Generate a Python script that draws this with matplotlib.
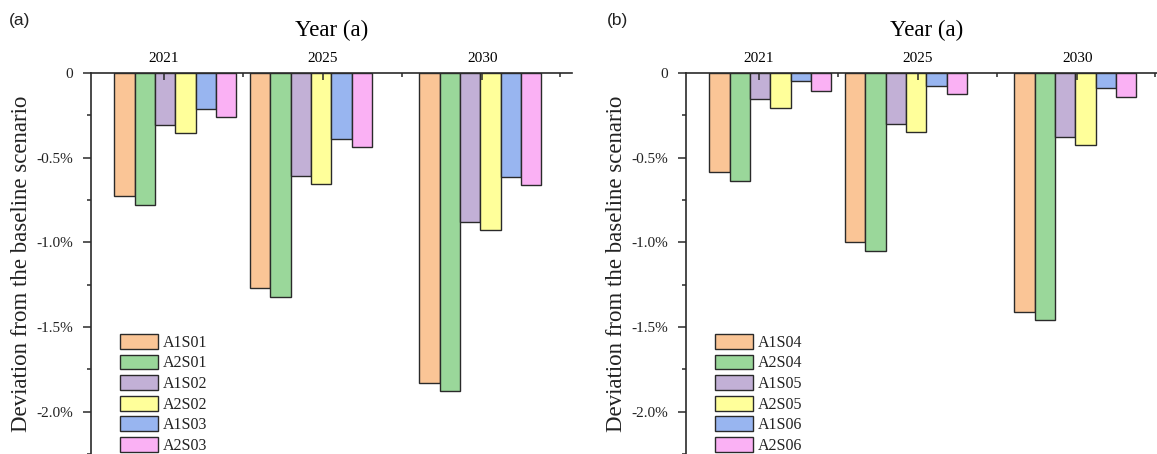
import matplotlib
matplotlib.use("Agg")
import matplotlib.pyplot as plt
import numpy as np

# ---------------- data ----------------
years = [2021, 2025, 2030]
year_labels = ["2021", "2025", "2030"]

labels_a = ["A1S01", "A2S01", "A1S02", "A2S02", "A1S03", "A2S03"]
A1S01 = [-0.728, -1.27, -1.83]
A2S01 = [-0.778, -1.32, -1.88]
A1S02 = [-0.306, -0.606, -0.877]
A2S02 = [-0.355, -0.655, -0.930]
A1S03 = [-0.210, -0.388, -0.612]
A2S03 = [-0.260, -0.437, -0.663]

labels_b = ["A1S04", "A2S04", "A1S05", "A2S05", "A1S06", "A2S06"]
A1S04 = [-0.585, -1.00, -1.41]
A2S04 = [-0.635, -1.05, -1.46]
A1S05 = [-0.155, -0.300, -0.375]
A2S05 = [-0.205, -0.350, -0.425]
A1S06 = [-0.050, -0.075, -0.090]
A2S06 = [-0.105, -0.125, -0.140]

yticks = [0, -0.5, -1.0, -1.5, -2.0]
ytick_labels = ["0", "-0.5%", "-1.0%", "-1.5%", "-2.0%"]

colors = ["#FAC596", "#9AD79A", "#C2B0D6", "#FFFF9A", "#98B5F0", "#FAB1F4"]
edge = "#2a2a2a"

# ---------------- layout ----------------
W, H = 1157, 454
fig = plt.figure(figsize=(W / 100, H / 100), dpi=100)
fig.patch.set_facecolor("white")

serif = ["Liberation Serif", "DejaVu Serif"]
sans = ["Liberation Sans", "DejaVu Sans"]

bar_w = 0.6
xlim = (2018.51, 2032.70)
ylim = (-2.241, 0)
top_major = [2020.66, 2025.35, 2030.05]
top_minor = [2022.99, 2027.68, 2032.35]


def make_panel(left_px, series, labels, tag, tag_x):
    ax_w = 481
    ax = fig.add_axes([left_px / W, 0, ax_w / W, (H - 73) / H])
    ax.set_axisbelow(False)
    x = np.array(years, dtype=float)
    for i, (vals, lab) in enumerate(zip(series, labels)):
        ax.bar(x + (i - 2.5) * bar_w, vals, width=bar_w, color=colors[i],
               edgecolor=edge, linewidth=1.0, label=lab, zorder=2)
    ax.set_xlim(*xlim)
    ax.set_ylim(*ylim)
    ax.spines["bottom"].set_visible(False)
    ax.spines["right"].set_visible(False)
    for s in ("top", "left"):
        ax.spines[s].set_color(edge)
        ax.spines[s].set_linewidth(1.2)
        ax.spines[s].set_zorder(5)

    # x axis on top
    ax.xaxis.tick_top()
    ax.set_xticks(top_major)
    ax.set_xticklabels(year_labels, fontfamily=serif, fontsize=11)
    ax.set_xticks(top_minor, minor=True)
    ax.tick_params(axis="x", which="major", direction="in", length=5,
                   width=1.1, color=edge, pad=6)
    ax.tick_params(axis="x", which="minor", direction="in", length=3,
                   width=1.1, color=edge)
    ax.xaxis.set_label_position("top")
    ax.set_xlabel("Year (a)", fontfamily=serif, fontsize=16.5, labelpad=11)

    # y axis
    ax.set_yticks(yticks)
    ax.set_yticklabels(ytick_labels, fontfamily=serif, fontsize=11,
                       color="#222222")
    ax.set_yticks(np.arange(-2.25, 0.01, 0.25), minor=True)
    ax.tick_params(axis="y", which="major", direction="out", length=6,
                   width=1.1, color=edge, pad=7)
    ax.tick_params(axis="y", which="minor", direction="out", length=3,
                   width=1.1, color=edge)

    leg = ax.legend(loc="upper left",
                    bbox_to_anchor=(29 / ax_w, (454 - 334) / 381),
                    frameon=False, borderpad=0, borderaxespad=0,
                    handlelength=2.4, handleheight=1.05, handletextpad=0.3,
                    labelspacing=0.235,
                    prop={"family": serif, "size": 11.5})
    for t in leg.get_texts():
        t.set_color("#222222")

    fig.text((left_px - 69) / W, 1 - 263.5 / H,
             "Deviation from the baseline scenario", rotation=90,
             ha="center", va="center", fontfamily=serif, fontsize=16.5,
             color="#222222")
    fig.text(tag_x / W, 1 - 21 / H, tag, ha="left", va="center",
             fontfamily=sans, fontsize=12.5, color="#222222")
    return ax


make_panel(91, [A1S01, A2S01, A1S02, A2S02, A1S03, A2S03], labels_a, "(a)", 9)
make_panel(686, [A1S04, A2S04, A1S05, A2S05, A1S06, A2S06], labels_b, "(b)", 607)

fig.savefig("out.png", dpi=100, facecolor="white")
